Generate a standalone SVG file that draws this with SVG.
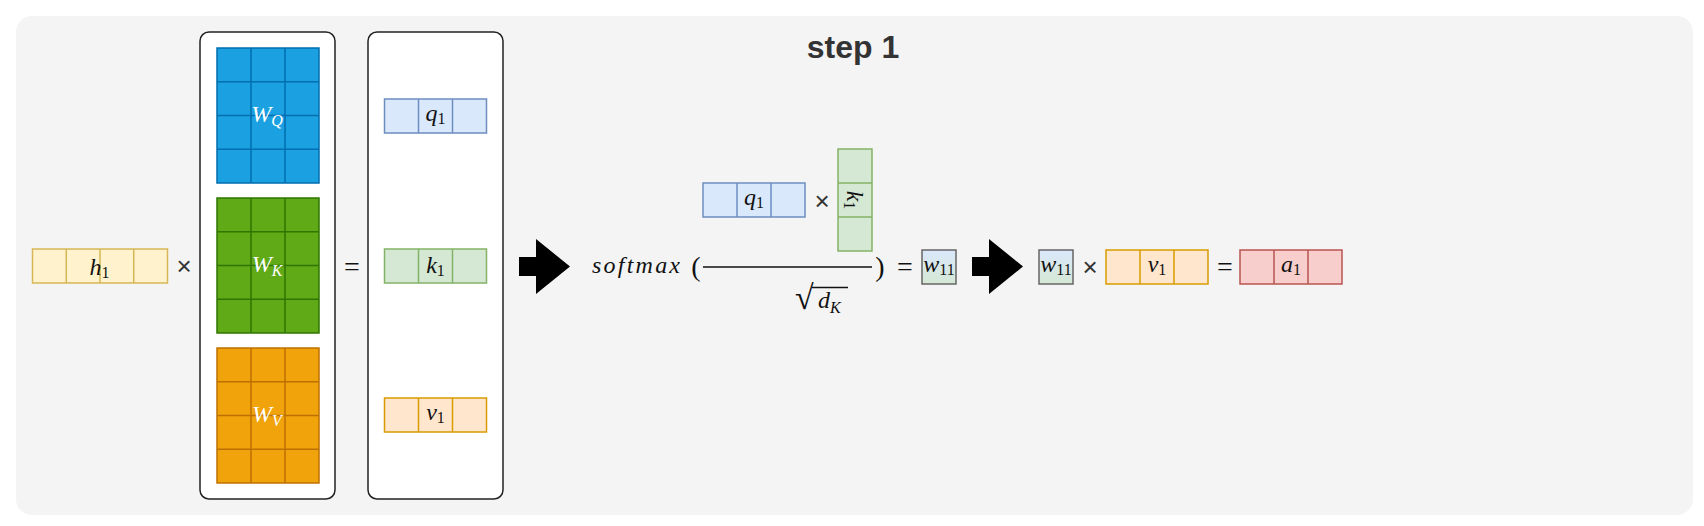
<svg xmlns="http://www.w3.org/2000/svg" width="1704" height="526" viewBox="0 0 1704 526">
<defs>
<linearGradient id="gw" x1="0" y1="0" x2="0" y2="1">
<stop offset="0" stop-color="#dae8fc"/>
<stop offset="1" stop-color="#d5e8d4"/>
</linearGradient>
<style>
.m{font-family:"Liberation Serif","DejaVu Serif",serif;font-style:italic;font-size:24px;fill:#111;}
.s{font-size:16px;font-style:normal;}
.si{font-size:16px;font-style:italic;}
.op{font-family:"Liberation Sans",Arial,sans-serif;font-size:26px;fill:#333;text-anchor:middle;}
.eq{font-family:"Liberation Serif",serif;font-size:28px;fill:#111;text-anchor:middle;}
.w{fill:#fff;}
.ln{fill:none;stroke-width:1.5;}
.yl{fill:#fff2cc;stroke:#d6b656;stroke-width:1.5;}
.bl{fill:#dae8fc;stroke:#6c8ebf;stroke-width:1.5;}
.gr{fill:#d5e8d4;stroke:#82b366;stroke-width:1.5;}
.or{fill:#ffe6cc;stroke:#d79b00;stroke-width:1.5;}
.rd{fill:#f8cecc;stroke:#b85450;stroke-width:1.5;}
.mq{fill:#1ba1e2;stroke:#006eaf;stroke-width:1.5;}
.mk{fill:#60a917;stroke:#2d7600;stroke-width:1.5;}
.mv{fill:#f0a30a;stroke:#bd7000;stroke-width:1.5;}
.box{fill:#fff;stroke:#222;stroke-width:1.5;}
.arr{fill:#000;}
</style>
</defs>
<rect id="background" x="16" y="16" width="1677" height="499" rx="16" fill="#f4f4f4"/>
<g id="title"><text x="853" y="58" font-family="Liberation Sans,Arial,sans-serif" font-weight="bold" font-size="32" fill="#333" text-anchor="middle">step 1</text></g>

<g id="h1">
<rect class="yl" x="32.5" y="249" width="135" height="34"/>
<path class="ln" stroke="#d6b656" d="M66.25 249V283M100 249V283M133.75 249V283"/>
<text class="m" x="99.5" y="275" text-anchor="middle">h<tspan class="s" dy="3">1</tspan></text>
</g>
<g id="times1"><text class="op" x="184" y="275">×</text></g>

<g id="box1">
<rect class="box" x="200" y="32" width="135" height="467" rx="9"/>
<g id="WQ">
<rect class="mq" x="217" y="48" width="102" height="135"/>
<path class="ln" stroke="#006eaf" d="M251 48V183M285 48V183M217 81.75H319M217 115.5H319M217 149.25H319"/>
<text class="m w" x="267" y="122" text-anchor="middle">W<tspan class="si" dy="4">Q</tspan></text>
</g>
<g id="WK">
<rect class="mk" x="217" y="198" width="102" height="135"/>
<path class="ln" stroke="#2d7600" d="M251 198V333M285 198V333M217 231.75H319M217 265.5H319M217 299.25H319"/>
<text class="m w" x="267" y="272" text-anchor="middle">W<tspan class="si" dy="4">K</tspan></text>
</g>
<g id="WV">
<rect class="mv" x="217" y="348" width="102" height="135"/>
<path class="ln" stroke="#bd7000" d="M251 348V483M285 348V483M217 381.75H319M217 415.5H319M217 449.25H319"/>
<text class="m w" x="267" y="422" text-anchor="middle">W<tspan class="si" dy="4">V</tspan></text>
</g>
</g>

<g id="eq1"><text class="eq" x="352" y="276">=</text></g>

<g id="box2">
<rect class="box" x="368" y="32" width="135" height="467" rx="9"/>
<g id="q1">
<rect class="bl" x="384.5" y="99" width="102" height="34"/>
<path class="ln" stroke="#6c8ebf" d="M418.5 99V133M452.5 99V133"/>
<text class="m" x="435.5" y="121" text-anchor="middle">q<tspan class="s" dy="3">1</tspan></text>
</g>
<g id="k1">
<rect class="gr" x="384.5" y="249" width="102" height="34"/>
<path class="ln" stroke="#82b366" d="M418.5 249V283M452.5 249V283"/>
<text class="m" x="435.5" y="273" text-anchor="middle">k<tspan class="s" dy="3">1</tspan></text>
</g>
<g id="v1">
<rect class="or" x="384.5" y="398" width="102" height="34"/>
<path class="ln" stroke="#d79b00" d="M418.5 398V432M452.5 398V432"/>
<text class="m" x="435.5" y="420" text-anchor="middle">v<tspan class="s" dy="3">1</tspan></text>
</g>
</g>

<g id="connectors">
<polygon id="arrow1" class="arr" points="519,257 536,257 536,239 570,266.5 536,294 536,276 519,276"/>
<polygon id="arrow2" class="arr" points="972,257 989,257 989,239 1023,266.5 989,294 989,276 972,276"/>
</g>

<g id="formula">
<text class="m" x="592" y="273" font-size="25" textLength="88" lengthAdjust="spacing">softmax</text>
<text class="eq" x="696" y="276" font-size="26">(</text>
<g id="q1t">
<rect class="bl" x="703" y="183" width="102" height="34"/>
<path class="ln" stroke="#6c8ebf" d="M737 183V217M771 183V217"/>
<text class="m" x="754" y="205" text-anchor="middle">q<tspan class="s" dy="3">1</tspan></text>
</g>
<text class="op" x="822" y="210">×</text>
<g id="k1t">
<rect class="gr" x="838" y="149" width="34" height="102"/>
<path class="ln" stroke="#82b366" d="M838 183H872M838 217H872"/>
<text class="m" transform="translate(855,200) rotate(90)" x="0" y="8" text-anchor="middle">k<tspan class="s" dy="3">1</tspan></text>
</g>
<line x1="703" y1="267" x2="872" y2="267" stroke="#111" stroke-width="1.3"/>
<text class="eq" x="880" y="276" font-size="26">)</text>
<text x="795" y="309" font-size="34" font-family="Liberation Serif,serif" fill="#111">√</text>
<line x1="812" y1="287.5" x2="848" y2="287.5" stroke="#111" stroke-width="1.3"/>
<text class="m" x="818" y="308">d<tspan class="si" dy="5">K</tspan></text>
<text class="eq" x="905" y="276">=</text>
</g>

<g id="w11a">
<rect x="922" y="250" width="34" height="34" fill="url(#gw)" stroke="#666" stroke-width="1.5"/>
<text class="m" x="939" y="272" text-anchor="middle" fill="#333" font-size="22">w<tspan class="s" dy="3" font-size="15">11</tspan></text>
</g>

<g id="w11b">
<rect x="1039" y="250" width="34" height="34" fill="url(#gw)" stroke="#666" stroke-width="1.5"/>
<text class="m" x="1056" y="272" text-anchor="middle" fill="#333" font-size="22">w<tspan class="s" dy="3" font-size="15">11</tspan></text>
</g>
<g id="times3"><text class="op" x="1090" y="276">×</text></g>
<g id="v1b">
<rect class="or" x="1106" y="250" width="102" height="34"/>
<path class="ln" stroke="#d79b00" d="M1140 250V284M1174 250V284"/>
<text class="m" x="1157" y="272" text-anchor="middle">v<tspan class="s" dy="3">1</tspan></text>
</g>
<g id="eq3"><text class="eq" x="1225" y="276">=</text></g>
<g id="a1">
<rect class="rd" x="1240" y="250" width="102" height="34"/>
<path class="ln" stroke="#b85450" d="M1274 250V284M1308 250V284"/>
<text class="m" x="1291" y="272" text-anchor="middle">a<tspan class="s" dy="3">1</tspan></text>
</g>
</svg>
